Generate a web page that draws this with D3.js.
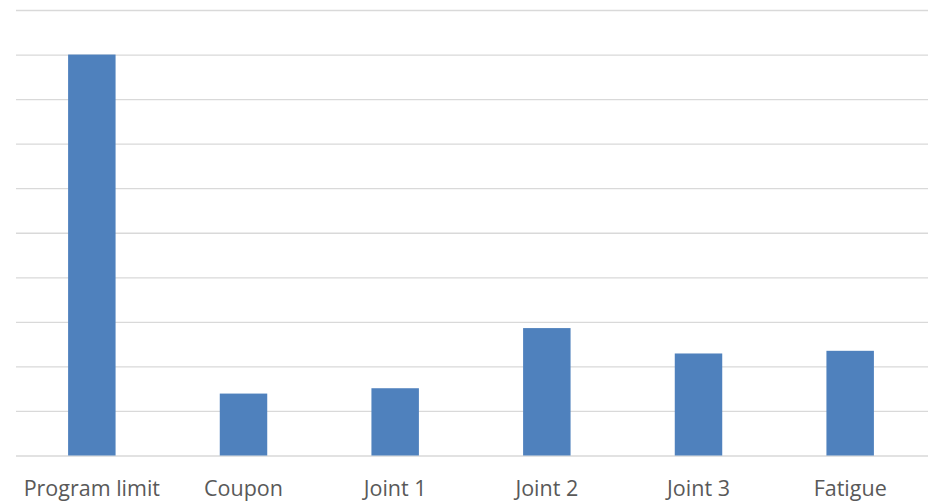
<!DOCTYPE html>
<html>
<head>
<meta charset="utf-8">
<script src="https://cdn.jsdelivr.net/npm/d3@7"></script>
<style>
  html, body { margin: 0; padding: 0; background: #fff; }
  svg { display: block; }
</style>
</head>
<body>
<svg id="chart" width="928" height="502"></svg>
<script>
const categories = ["Program limit", "Coupon", "Joint 1", "Joint 2", "Joint 3", "Fatigue"];
const values = [9.0, 1.39, 1.51, 2.86, 2.29, 2.35];
const yTicks = [0, 1, 2, 3, 4, 5, 6, 7, 8, 9, 10];

const svg = d3.select("#chart");
const margin = { left: 16, right: 2, top: 10, bottom: 46.5 };
const W = 928, H = 502;

const x = d3.scaleBand()
  .domain(categories)
  .range([margin.left, W - margin.right])
  .paddingInner(0.687)
  .paddingOuter(0.3435);

const y = d3.scaleLinear()
  .domain([0, 10])
  .range([H - margin.bottom, margin.top]);

// gridlines
svg.append("g")
  .attr("transform", `translate(${margin.left},0)`)
  .call(d3.axisLeft(y).tickValues(yTicks).tickSize(-(W - margin.left)).tickFormat(""))
  .call(g => g.select(".domain").remove())
  .call(g => g.selectAll(".tick line").attr("stroke", "#d9d9d9").attr("stroke-width", 1.3));

// bars
svg.append("g").selectAll("rect")
  .data(categories)
  .join("rect")
  .attr("x", d => x(d))
  .attr("width", x.bandwidth())
  .attr("y", (d, i) => y(values[i]))
  .attr("height", (d, i) => y(0) - y(values[i]))
  .attr("fill", "#4f81bd");

// x axis labels
svg.append("g")
  .attr("transform", `translate(0,${y(0)})`)
  .call(d3.axisBottom(x).tickSize(0).tickPadding(25))
  .call(g => g.select(".domain").remove())
  .call(g => g.selectAll("text")
    .attr("fill", "#595959")
    .attr("font-family", "'Open Sans', sans-serif")
    .attr("font-size", "21.5px"));
</script>
</body>
</html>
